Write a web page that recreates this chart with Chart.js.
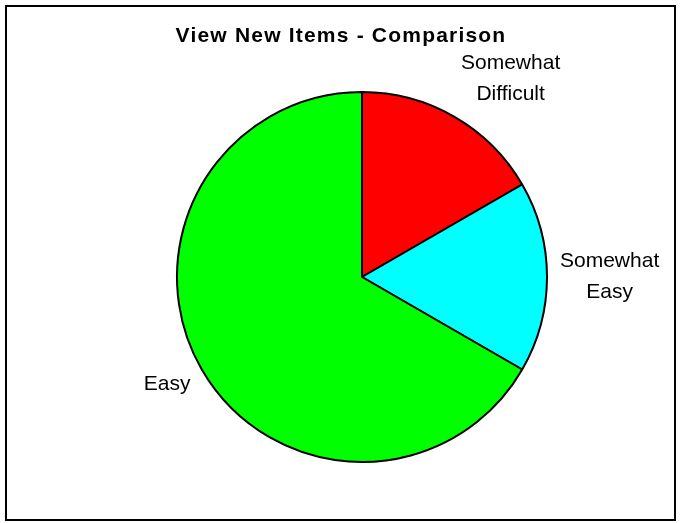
<!DOCTYPE html>
<html>
<head>
<meta charset="utf-8">
<title>View New Items - Comparison</title>
<script src="https://cdn.jsdelivr.net/npm/chart.js@4.4.1/dist/chart.umd.min.js"></script>
<style>
    body { margin: 0; background: #ffffff; }
    canvas { display: block; }
</style>
</head>
<body>
<canvas id="myChart" width="698" height="523"></canvas>
<script>
//Data_
const chartTitle = 'View New Items - Comparison';
const categories = ['Somewhat Difficult', 'Somewhat Easy', 'Easy'];
const responses = [1, 1, 4];
const sliceColors = ['#ff0000', '#00ffff', '#00ff00'];

const graph = document.getElementById('myChart');
const fontFamily = '"Liberation Sans", Arial, sans-serif';

//Plugins_
// outer frame + bold title
const frameTitle = {
    id: 'frameTitle',
    beforeDraw(chart) {
        const ctx = chart.ctx;
        ctx.save();
        ctx.fillStyle = '#ffffff';
        ctx.fillRect(0, 0, chart.width, chart.height);
        ctx.strokeStyle = '#000000';
        ctx.lineWidth = 2;
        ctx.strokeRect(6, 6, 669, 514);
        ctx.fillStyle = '#000000';
        ctx.font = 'bold 21px ' + fontFamily;
        ctx.letterSpacing = '1.2px';
        ctx.textAlign = 'center';
        ctx.textBaseline = 'middle';
        ctx.fillText(chartTitle, 341, 36);
        ctx.restore();
    }
};

// category names outside each slice
const sliceLabels = {
    id: 'sliceLabels',
    afterDatasetsDraw(chart) {
        const ctx = chart.ctx;
        const arcs = chart.getDatasetMeta(0).data;
        const lineH = 31;
        const gap = 13;
        ctx.save();
        ctx.fillStyle = '#000000';
        ctx.font = '21px ' + fontFamily;
        ctx.textAlign = 'center';
        ctx.textBaseline = 'middle';
        arcs.forEach((arc, i) => {
            const p = arc.getProps(['x', 'y', 'startAngle', 'endAngle', 'outerRadius'], true);
            const mid = (p.startAngle + p.endAngle) / 2;
            const ux = Math.cos(mid);
            const uy = Math.sin(mid);
            const px = p.x + ux * (p.outerRadius + gap);
            const py = p.y + uy * (p.outerRadius + gap);
            const lines = chart.data.labels[i].split(' ');
            const w = Math.max(...lines.map(l => ctx.measureText(l).width));
            const h = lines.length * lineH;
            let left = px - w / 2;
            if (ux > 0.1) left = px;
            if (ux < -0.1) left = px - w;
            const cy = py + uy * h / 2;
            lines.forEach((line, j) => {
                ctx.fillText(line, left + w / 2, cy + (j - (lines.length - 1) / 2) * lineH);
            });
        });
        ctx.restore();
    }
};

//Chart_
const config = {
    type: 'pie',
    data: {
        labels: categories,
        datasets: [{
            data: responses,
            backgroundColor: sliceColors,
            borderColor: '#000000',
            borderWidth: 2,
            hoverOffset: 0
        }]
    },
    options: {
        responsive: false,
        animation: false,
        events: [],
        layout: {
            padding: { top: 91, bottom: 60, left: 176, right: 150 }
        },
        plugins: {
            legend: { display: false },
            tooltip: { enabled: false }
        }
    },
    plugins: [frameTitle, sliceLabels]
};

const chart = new Chart(graph, config);
</script>
</body>
</html>
